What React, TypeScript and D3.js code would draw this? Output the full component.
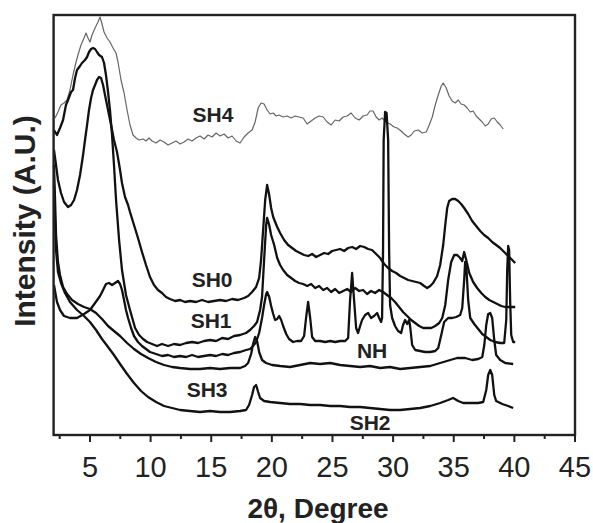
import React from 'react';
import * as d3 from 'd3';

type Pt = [number, number];

const xTicksMajor = [5, 10, 15, 20, 25, 30, 35, 40, 45];
const xTicksMinor = [2.5, 7.5, 12.5, 17.5, 22.5, 27.5, 32.5, 37.5, 42.5];

const sh4: Pt[] = [
  [2.12, 317], [2.36, 323], [2.61, 330], [2.86, 332], [3.11, 335], [3.35, 345], [3.6, 360], [3.85, 373],
  [4.01, 380], [4.26, 390], [4.51, 397], [4.67, 402], [4.84, 397], [5.0, 393], [5.17, 400], [5.42, 407],
  [5.66, 413], [5.83, 418], [5.99, 411], [6.16, 403], [6.41, 397], [6.65, 393], [6.9, 387], [7.15, 382],
  [7.31, 373], [7.56, 355], [7.81, 342], [8.06, 325], [8.3, 310], [8.55, 300], [8.8, 297], [9.05, 295],
  [9.38, 296], [9.62, 294], [9.87, 297], [10.12, 294], [10.45, 292], [10.78, 295], [11.11, 293], [11.44, 290],
  [11.77, 292], [12.1, 294], [12.43, 291], [12.76, 293], [13.09, 296], [13.42, 294], [13.75, 297], [14.08, 299],
  [14.41, 296], [14.74, 300], [15.07, 298], [15.4, 302], [15.73, 299], [16.06, 301], [16.39, 297], [16.72, 299],
  [17.05, 294], [17.38, 292], [17.71, 298], [18.04, 302], [18.37, 305], [18.62, 313], [18.87, 327], [19.11, 332],
  [19.36, 331], [19.61, 325], [19.86, 321], [20.11, 322], [20.35, 319], [20.6, 320], [20.93, 318], [21.26, 319],
  [21.59, 317], [21.92, 319], [22.25, 318], [22.58, 317], [22.91, 311], [23.24, 314], [23.57, 317], [23.9, 319],
  [24.23, 318], [24.56, 313], [24.89, 310], [25.22, 315], [25.55, 314], [25.88, 318], [26.21, 319], [26.54, 322],
  [26.87, 317], [27.2, 315], [27.52, 319], [27.85, 320], [28.1, 324], [28.35, 324], [28.6, 318], [28.85, 315],
  [29.09, 317], [29.42, 313], [29.75, 311], [30.08, 308], [30.33, 307], [30.66, 304], [30.91, 301], [31.24, 298],
  [31.49, 300], [31.74, 304], [32.07, 305], [32.4, 302], [32.73, 303], [32.98, 310], [33.23, 318], [33.47, 330],
  [33.72, 340], [33.97, 349], [34.13, 352], [34.38, 347], [34.62, 339], [34.87, 334], [35.12, 332], [35.37, 335],
  [35.61, 331], [35.86, 330], [36.11, 327], [36.36, 323], [36.6, 324], [36.85, 319], [37.1, 316], [37.35, 313],
  [37.6, 309], [37.84, 311], [38.09, 316], [38.34, 317], [38.59, 313], [38.83, 310], [39.08, 306],
];

const sh0: Pt[] = [
  [2.03, 285], [2.2, 270], [2.36, 255], [2.61, 242], [2.86, 233], [3.19, 228], [3.44, 230], [3.69, 235],
  [3.93, 245], [4.18, 260], [4.43, 280], [4.59, 295], [4.76, 310], [4.92, 325], [5.09, 337], [5.25, 345],
  [5.42, 350], [5.58, 355], [5.75, 358], [5.91, 357], [6.08, 350], [6.24, 340], [6.49, 325], [6.74, 310],
  [6.98, 295], [7.23, 283], [7.48, 265], [7.64, 252], [7.89, 238], [8.14, 230], [8.3, 223], [8.63, 210],
  [8.96, 197], [9.29, 183], [9.62, 170], [9.95, 158], [10.28, 150], [10.61, 145], [10.94, 142], [11.27, 138],
  [11.6, 136], [12.02, 134], [12.43, 135], [12.84, 133], [13.25, 134], [13.75, 133], [14.24, 135], [14.74, 133],
  [15.23, 134], [15.73, 135], [16.22, 134], [16.72, 136], [17.21, 135], [17.71, 137], [18.04, 139], [18.37, 143],
  [18.7, 148], [18.95, 157], [19.11, 175], [19.28, 205], [19.45, 235], [19.61, 250], [19.78, 240], [19.94, 227],
  [20.11, 218], [20.44, 208], [20.68, 202], [21.01, 195], [21.34, 190], [21.67, 187], [22.0, 184], [22.33, 182],
  [22.66, 180], [22.99, 179], [23.32, 181], [23.65, 178], [23.98, 180], [24.31, 182], [24.64, 181], [24.97, 184],
  [25.3, 185], [25.63, 186], [25.96, 184], [26.29, 187], [26.62, 188], [26.95, 186], [27.28, 189], [27.61, 188],
  [27.94, 186], [28.26, 185], [28.6, 181], [28.93, 177], [29.26, 171], [29.59, 167], [29.92, 164], [30.25, 162],
  [30.58, 159], [30.91, 157], [31.24, 155], [31.57, 154], [31.9, 153], [32.23, 152], [32.56, 149], [32.81, 147],
  [33.06, 149], [33.3, 152], [33.63, 159], [33.88, 170], [34.13, 190], [34.3, 210], [34.46, 227], [34.62, 234],
  [34.87, 236], [35.12, 236], [35.37, 234], [35.61, 231], [35.86, 227], [36.19, 221], [36.52, 214], [36.85, 209],
  [37.18, 204], [37.51, 200], [37.84, 197], [38.17, 193], [38.5, 190], [38.83, 187], [39.16, 183], [39.49, 179],
  [39.82, 175], [40.07, 172],
];

const sh1: Pt[] = [
  [2.03, 305], [2.28, 300], [2.53, 307], [2.78, 315], [3.02, 330], [3.19, 335], [3.44, 343], [3.6, 345],
  [3.77, 357], [3.93, 365], [4.18, 369], [4.34, 372], [4.59, 375], [4.76, 378], [4.92, 383], [5.09, 386],
  [5.25, 387], [5.42, 386], [5.58, 383], [5.75, 380], [5.99, 378], [6.16, 372], [6.32, 360], [6.49, 343],
  [6.65, 325], [6.82, 300], [6.98, 270], [7.15, 235], [7.4, 195], [7.64, 165], [7.97, 140], [8.3, 125],
  [8.72, 107], [9.05, 100], [9.38, 96], [9.71, 93], [10.12, 91], [10.53, 89], [10.94, 91], [11.44, 89],
  [11.93, 91], [12.43, 90], [12.93, 92], [13.42, 93], [13.91, 92], [14.41, 94], [14.9, 95], [15.4, 94],
  [15.9, 97], [16.39, 96], [16.88, 99], [17.38, 100], [17.87, 102], [18.2, 105], [18.53, 109], [18.78, 113],
  [19.03, 125], [19.19, 138], [19.36, 175], [19.53, 210], [19.61, 217], [19.78, 210], [19.94, 200], [20.19, 190],
  [20.44, 177], [20.68, 170], [20.93, 165], [21.26, 160], [21.59, 157], [21.92, 154], [22.25, 152], [22.58, 151],
  [22.91, 149], [23.24, 151], [23.57, 147], [23.9, 149], [24.23, 145], [24.56, 147], [24.89, 143], [25.22, 146],
  [25.55, 142], [25.88, 144], [26.21, 146], [26.54, 143], [26.87, 147], [27.2, 144], [27.52, 145], [27.85, 141],
  [28.18, 144], [28.51, 142], [28.85, 145], [29.17, 143], [29.5, 140], [29.84, 137], [30.16, 133], [30.49, 128],
  [30.82, 123], [31.16, 119], [31.49, 115], [31.82, 112], [32.15, 109], [32.48, 107], [32.81, 107], [33.14, 107],
  [33.47, 109], [33.8, 112], [34.05, 117], [34.3, 130], [34.54, 155], [34.79, 173], [35.04, 180], [35.28, 180],
  [35.53, 177], [35.7, 174], [35.86, 183], [36.03, 175], [36.28, 162], [36.6, 153], [36.93, 147], [37.27, 142],
  [37.6, 138], [37.93, 135], [38.26, 133], [38.59, 131], [38.92, 129], [39.25, 128], [39.57, 128], [40.07, 128],
];

const nh: Pt[] = [
  [2.03, 150], [2.28, 133], [2.53, 125], [2.86, 119], [3.35, 117], [3.93, 117], [4.51, 121], [5.0, 125],
  [5.42, 132], [5.83, 139], [6.08, 145], [6.32, 151], [6.57, 152], [6.82, 150], [7.07, 152], [7.31, 154],
  [7.48, 151], [7.64, 145], [7.81, 135], [7.97, 125], [8.14, 117], [8.39, 107], [8.63, 99], [8.96, 93],
  [9.29, 89], [9.62, 86], [9.95, 83], [10.45, 81], [10.94, 79], [11.44, 80], [11.93, 78], [12.43, 79],
  [12.93, 78], [13.42, 80], [13.91, 78], [14.41, 79], [14.9, 80], [15.4, 79], [15.9, 81], [16.39, 80],
  [16.88, 82], [17.38, 83], [17.87, 85], [18.2, 86], [18.45, 89], [18.7, 93], [18.95, 102], [19.19, 117],
  [19.36, 130], [19.53, 141], [19.61, 143], [19.78, 138], [19.94, 129], [20.11, 121], [20.27, 115], [20.44, 116],
  [20.6, 119], [20.77, 115], [20.93, 109], [21.18, 101], [21.42, 96], [21.75, 93], [22.08, 94], [22.41, 94],
  [22.66, 99], [22.82, 117], [22.99, 133], [23.16, 117], [23.32, 98], [23.57, 94], [23.98, 94], [24.39, 93],
  [24.81, 94], [25.22, 93], [25.63, 94], [26.05, 94], [26.29, 97], [26.45, 135], [26.62, 162], [26.78, 135],
  [26.95, 107], [27.11, 102], [27.28, 109], [27.44, 115], [27.69, 120], [27.94, 122], [28.18, 117], [28.43, 119],
  [28.68, 122], [28.85, 117], [29.01, 113], [29.09, 117], [29.17, 185], [29.22, 295], [29.34, 323], [29.46, 322],
  [29.59, 295], [29.67, 185], [29.75, 130], [29.92, 117], [30.16, 109], [30.41, 104], [30.66, 102], [30.82, 110],
  [30.99, 115], [31.16, 111], [31.32, 115], [31.41, 108], [31.57, 90], [31.82, 85], [32.23, 84], [32.64, 83],
  [33.06, 83], [33.47, 84], [33.72, 87], [33.97, 100], [34.21, 113], [34.54, 117], [34.87, 117], [35.2, 118],
  [35.53, 120], [35.7, 127], [35.86, 155], [35.94, 173], [36.03, 170], [36.19, 135], [36.36, 117], [36.69, 111],
  [37.02, 106], [37.35, 101], [37.68, 98], [38.01, 95], [38.42, 93], [38.83, 92], [39.16, 92], [39.33, 115],
  [39.41, 165], [39.49, 189], [39.57, 185], [39.65, 135], [39.74, 100], [39.9, 93], [40.07, 93],
];

const sh3: Pt[] = [
  [2.03, 270], [2.12, 235], [2.2, 200], [2.36, 173], [2.53, 160], [2.78, 148], [3.11, 141], [3.52, 135],
  [4.01, 131], [4.51, 128], [5.0, 126], [5.5, 122], [5.99, 116], [6.49, 109], [6.98, 104], [7.48, 99],
  [8.06, 92], [8.63, 86], [9.21, 81], [9.79, 77], [10.45, 73], [11.11, 70], [11.77, 68], [12.43, 67],
  [13.25, 66], [14.08, 66], [14.9, 67], [15.73, 66], [16.55, 67], [17.38, 67], [17.79, 69], [18.04, 72],
  [18.29, 81], [18.45, 91], [18.62, 98], [18.78, 94], [18.95, 83], [19.19, 75], [19.52, 72], [20.02, 70],
  [20.68, 69], [21.5, 68], [22.33, 70], [23.16, 72], [23.98, 71], [24.81, 72], [25.63, 70], [26.45, 69],
  [27.28, 68], [28.1, 69], [28.93, 67], [29.75, 68], [30.58, 66], [31.41, 67], [32.23, 68], [33.06, 69],
  [33.88, 72], [34.71, 75], [35.28, 77], [35.94, 77], [36.52, 75], [37.02, 76], [37.35, 78], [37.52, 90],
  [37.68, 110], [37.84, 121], [38.01, 122], [38.17, 117], [38.34, 95], [38.5, 80], [38.83, 75], [39.25, 72],
  [39.9, 71],
];

const sh2: Pt[] = [
  [2.03, 250], [2.12, 215], [2.2, 185], [2.36, 163], [2.61, 152], [2.94, 142], [3.35, 133], [3.93, 125],
  [4.51, 119], [5.0, 113], [5.5, 105], [5.99, 96], [6.49, 88], [6.98, 80], [7.48, 71], [8.06, 61],
  [8.63, 52], [9.21, 44], [9.79, 38], [10.45, 33], [11.11, 29], [11.77, 27], [12.43, 25], [13.25, 24],
  [14.08, 23], [14.9, 24], [15.73, 23], [16.55, 23], [17.38, 24], [17.87, 25], [18.12, 30], [18.37, 40],
  [18.53, 48], [18.7, 50], [18.87, 43], [19.03, 37], [19.36, 34], [19.86, 33], [20.68, 32], [21.5, 31],
  [22.33, 31], [23.16, 30], [23.98, 30], [24.81, 29], [25.63, 29], [26.45, 28], [27.28, 28], [28.1, 27],
  [28.93, 26], [29.75, 25], [30.58, 25], [31.41, 26], [32.23, 27], [33.06, 29], [33.88, 32], [34.54, 35],
  [34.95, 37], [35.37, 34], [35.78, 32], [36.36, 32], [37.02, 32], [37.43, 33], [37.68, 45], [37.84, 60],
  [38.01, 65], [38.17, 60], [38.34, 40], [38.5, 34], [39.0, 31], [39.49, 29], [39.9, 27],
];

const seriesNames = ['SH4', 'SH0', 'SH1', 'NH', 'SH3', 'SH2'];
const seriesData: Pt[][] = [sh4, sh0, sh1, nh, sh3, sh2];
const labelAnchors: Pt[] = [
  [15.15, 313], [15.07, 148], [14.99, 107], [28.27, 77], [14.66, 38], [28.1, 5],
];

export default function App() {
  const W = 593;
  const H = 523;
  const x = d3.scaleLinear().domain([2, 45]).range([53.6, 575]);
  const y = d3.scaleLinear().domain([0, 420]).range([435, 15]);
  const line = d3
    .line<Pt>()
    .x((d) => x(d[0]))
    .y((d) => y(d[1]));
  const font = "'Liberation Sans', Arial, Helvetica, sans-serif";
  const x0 = x(2);
  const x1 = x(45);
  const y0 = y(0);
  const y1 = y(420);

  return (
    <svg
      width={W}
      height={H}
      style={{ position: 'absolute', left: 0, top: 0, background: '#fff' }}
      fontFamily={font}
    >
      <rect x={0} y={0} width={W} height={H} fill="#fff" />
      {seriesData.map((d, i) => (
        <path
          key={seriesNames[i]}
          d={line(d) || ''}
          fill="none"
          stroke={i === 0 ? '#666' : '#111'}
          strokeWidth={i === 0 ? 1.2 : 2.3}
          strokeLinejoin="round"
        />
      ))}
      <rect x={x0} y={y1} width={x1 - x0} height={y0 - y1} fill="none" stroke="#222" strokeWidth={2.4} />
      {xTicksMajor.map((t) => (
        <g key={'M' + t}>
          <line x1={x(t)} x2={x(t)} y1={y0} y2={y0 + 7} stroke="#222" strokeWidth={2} />
          <text x={x(t)} y={477} textAnchor="middle" fontSize={29} fill="#222">
            {t}
          </text>
        </g>
      ))}
      {xTicksMinor.map((t) => (
        <line key={'m' + t} x1={x(t)} x2={x(t)} y1={y0} y2={y0 + 4} stroke="#222" strokeWidth={2} />
      ))}
      {seriesNames.map((n, i) => (
        <text
          key={'L' + n}
          x={x(labelAnchors[i][0])}
          y={y(labelAnchors[i][1])}
          textAnchor="middle"
          fontSize={21}
          fontWeight="bold"
          fill="#222"
        >
          {n}
        </text>
      ))}
      <text x={318} y={518} textAnchor="middle" fontSize={28} fontWeight="bold" fill="#222">
        2θ, Degree
      </text>
      <text
        transform="translate(35,221) rotate(-90)"
        textAnchor="middle"
        fontSize={30}
        fontWeight="bold"
        fill="#222"
      >
        Intensity (A.U.)
      </text>
    </svg>
  );
}
